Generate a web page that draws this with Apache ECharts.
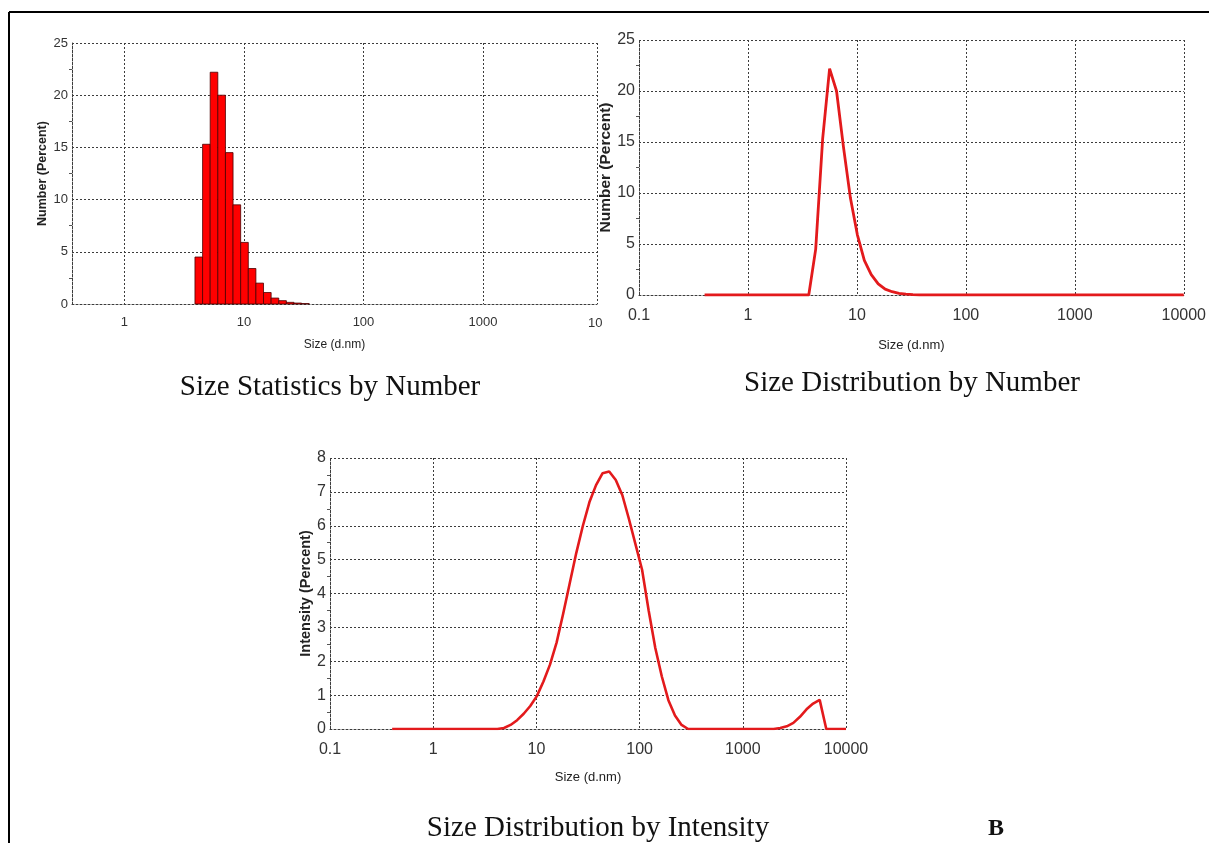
<!DOCTYPE html>
<html>
<head>
<meta charset="utf-8">
<script src="https://cdn.jsdelivr.net/npm/echarts@6/dist/echarts.min.js"></script>
<style>
html,body{margin:0;padding:0;background:#fff;}
#chart{width:1209px;height:843px;}
</style>
</head>
<body>
<div id="chart"></div>
<script>
// Malvern size classes (d.nm)
const sizeClasses = [0.4, 0.4632, 0.5365, 0.6213, 0.7195, 0.8332, 0.9649, 1.117, 1.294, 1.499,
  1.736, 2.010, 2.328, 2.696, 3.122, 3.615, 4.187, 4.849, 5.615, 6.503,
  7.531, 8.721, 10.10, 11.70, 13.54, 15.69, 18.17, 21.04, 24.36, 28.21,
  32.67, 37.84, 43.82, 50.75, 58.77, 68.06, 78.82, 91.28, 105.7, 122.4,
  141.8, 164.2, 190.1, 220.2, 255.0, 295.3, 342.0, 396.1, 458.7, 531.2,
  615.1, 712.4, 825.0, 955.4, 1106, 1281, 1484, 1718, 1990, 2305,
  2669, 3091, 3580, 4145, 4801, 5560, 6439, 7456, 8635, 10000];

// Number (Percent) per class
const numberPercent = [0, 0, 0, 0, 0, 0, 0, 0, 0, 0,
  0, 0, 0, 0, 0, 0, 4.5, 15.3, 22.2, 20.0,
  14.5, 9.5, 5.9, 3.4, 2.0, 1.1, 0.57, 0.32, 0.16, 0.09,
  0.04, 0, 0, 0, 0, 0, 0, 0, 0, 0,
  0, 0, 0, 0, 0, 0, 0, 0, 0, 0,
  0, 0, 0, 0, 0, 0, 0, 0, 0, 0,
  0, 0, 0, 0, 0, 0, 0, 0, 0, 0];

// Intensity (Percent) per class
const intensityPercent = [0, 0, 0, 0, 0, 0, 0, 0, 0, 0,
  0, 0, 0, 0, 0, 0, 0, 0.03, 0.12, 0.26,
  0.45, 0.68, 0.97, 1.4, 1.9, 2.55, 3.4, 4.3, 5.2, 6.0,
  6.7, 7.2, 7.55, 7.6, 7.35, 6.9, 6.2, 5.45, 4.7, 3.5,
  2.4, 1.55, 0.85, 0.4, 0.12, 0, 0, 0, 0, 0,
  0, 0, 0, 0, 0, 0, 0, 0, 0, 0.03,
  0.08, 0.18, 0.36, 0.58, 0.75, 0.86, 0, 0, 0, 0];

const xTickLabels = ['0.1', '1', '10', '100', '1000', '10000'];
const captions = ['Size Statistics by Number', 'Size Distribution by Number', 'Size Distribution by Intensity'];
const panelLetter = 'B';
const xTitle = 'Size (d.nm)';
const yTitles = ['Number (Percent)', 'Number (Percent)', 'Intensity (Percent)'];

const narrow = '"Liberation Sans Narrow", "Liberation Sans", Arial, sans-serif';
const sans = '"Liberation Sans", Arial, sans-serif';
const serif = '"Liberation Serif", "Times New Roman", serif';
const gridColor = '#3c3c3c';

function xLabel(v) {
  const k = Math.round(Math.log10(v));
  return xTickLabels[k + 1] !== undefined ? xTickLabels[k + 1] : '';
}

function makeX(gridIndex, min, max, fontSize, nameSize, margin, nameGap, hideEnds) {
  return {
    type: 'log', logBase: 10, gridIndex, min, max,
    name: xTitle, nameLocation: 'middle', nameGap,
    nameTextStyle: {fontFamily: narrow, fontSize: nameSize, color: '#222'},
    axisLine: {show: true, onZero: false, lineStyle: {color: gridColor, type: [2, 2], width: 1}},
    axisTick: {show: false},
    axisLabel: {show: true, fontFamily: narrow, fontSize, color: '#333', margin,
      showMinLabel: !hideEnds, showMaxLabel: !hideEnds, formatter: xLabel},
    splitLine: {show: true, lineStyle: {color: gridColor, type: [2, 2], width: 1}}
  };
}
function makeY(gridIndex, max, interval, fontSize, nameSize, nameGap, title) {
  return {
    type: 'value', gridIndex, min: 0, max, interval,
    name: title, nameLocation: 'middle', nameGap,
    nameTextStyle: {fontFamily: sans, fontWeight: 'bold', fontSize: nameSize, color: '#222'},
    axisLine: {show: true, lineStyle: {color: gridColor, type: [2, 2], width: 1}},
    axisTick: {show: false},
    minorTick: {show: true, splitNumber: 2, length: 3, lineStyle: {color: '#555'}},
    axisLabel: {fontFamily: narrow, fontSize, color: '#333', margin: 4},
    splitLine: {show: true, lineStyle: {color: gridColor, type: [2, 2], width: 1}}
  };
}

// histogram bins (classes with counts) with geometric edges
const barData = [];
for (let i = 0; i < sizeClasses.length; i++) {
  if (numberPercent[i] > 0) {
    const lo = Math.sqrt(sizeClasses[i - 1] * sizeClasses[i]);
    const hi = Math.sqrt(sizeClasses[i] * sizeClasses[i + 1]);
    barData.push([lo, hi, numberPercent[i]]);
  }
}

const chart = echarts.init(document.getElementById('chart'), null, {renderer: 'canvas'});
const option = {
  backgroundColor: '#fff',
  animation: false,
  grid: [
    {left: 72, top: 43, width: 525, height: 261},
    {left: 639, top: 40, width: 550, height: 255},
    {left: 330, top: 458, width: 516, height: 271}
  ],
  xAxis: [
    makeX(0, 0.364, 8995, 13, 12, 12, 35, true),
    makeX(1, 0.1, 10000, 16, 13, 13, 44, false),
    makeX(2, 0.1, 10000, 16, 13, 13, 42, false)
  ],
  yAxis: [
    makeY(0, 25, 5, 13, 12.5, 23, yTitles[0]),
    makeY(1, 25, 5, 16, 15.5, 24, yTitles[1]),
    makeY(2, 8, 1, 16, 14.5, 17, yTitles[2])
  ],
  series: [
    {
      type: 'custom', xAxisIndex: 0, yAxisIndex: 0,
      encode: {x: [0, 1], y: 2},
      renderItem: function (params, api) {
        const p0 = api.coord([api.value(0), api.value(2)]);
        const p1 = api.coord([api.value(1), 0]);
        return {
          type: 'rect',
          shape: {x: p0[0], y: p0[1], width: p1[0] - p0[0], height: p1[1] - p0[1]},
          style: {fill: '#ff0000', stroke: '#4a0000', lineWidth: 0.8}
        };
      },
      data: barData
    },
    {
      type: 'line', xAxisIndex: 1, yAxisIndex: 1, showSymbol: false, smooth: false,
      lineStyle: {color: '#e31a1c', width: 2.8},
      data: sizeClasses.map((s, i) => [s, numberPercent[i]])
    },
    {
      type: 'line', xAxisIndex: 2, yAxisIndex: 2, showSymbol: false, smooth: false,
      lineStyle: {color: '#e31a1c', width: 2.6},
      data: sizeClasses.map((s, i) => [s, intensityPercent[i]])
    }
  ],
  graphic: [
    {type: 'line', shape: {x1: 9, y1: 12, x2: 1209, y2: 12}, style: {stroke: '#000', lineWidth: 2}},
    {type: 'line', shape: {x1: 9, y1: 12, x2: 9, y2: 843}, style: {stroke: '#000', lineWidth: 2}},
    {type: 'text', x: 588, y: 323, style: {text: '10', font: '13px ' + narrow, fill: '#333', align: 'left', verticalAlign: 'middle'}},
    {type: 'text', x: 330, y: 387, style: {text: captions[0], font: '29px ' + serif, fill: '#111', align: 'center', verticalAlign: 'middle'}},
    {type: 'text', x: 912, y: 383, style: {text: captions[1], font: '29px ' + serif, fill: '#111', align: 'center', verticalAlign: 'middle'}},
    {type: 'text', x: 598, y: 828, style: {text: captions[2], font: '29px ' + serif, fill: '#111', align: 'center', verticalAlign: 'middle'}},
    {type: 'text', x: 996, y: 829, style: {text: panelLetter, font: 'bold 24px ' + serif, fill: '#111', align: 'center', verticalAlign: 'middle'}}
  ]
};
chart.setOption(option);
</script>
</body>
</html>
